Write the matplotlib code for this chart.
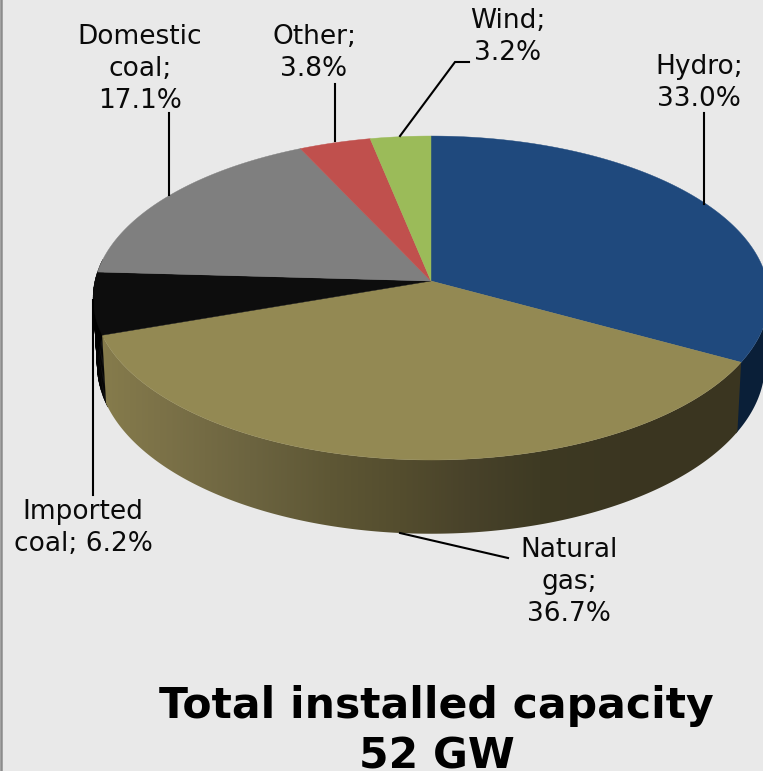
import numpy as np
import matplotlib
matplotlib.use("Agg")
import matplotlib.pyplot as plt
from matplotlib.colors import to_rgb
from matplotlib.patches import Polygon
from matplotlib.collections import PolyCollection

categories = ["Hydro", "Natural gas", "Imported coal", "Domestic coal", "Other", "Wind"]
shares = [33.0, 36.7, 6.2, 17.1, 3.8, 3.2]
top_colors = ["#1F497D", "#938953", "#0D0D0D", "#7F7F7F", "#C0504D", "#9BBB59"]
label_texts = ["Hydro;\n33.0%", "Natural\ngas;\n36.7%", "Imported\ncoal; 6.2%",
               "Domestic\ncoal;\n17.1%", "Other;\n3.8%", "Wind;\n3.2%"]
title_lines = ["Total installed capacity", "52 GW"]

W, H = 763, 771
BG = "#E9E9E9"
CX, CY, A, B, K, DEPTH = 431.0, 281.0, 336.0, 160.2, 0.105, 66.0

def top(theta):
    d = 1 + K * np.cos(theta)
    return CX + A * np.sin(theta) / d, CY - B * np.cos(theta) / d

def bottom(theta):
    d = 1 + K * np.cos(theta)
    return CX + 0.988 * A * np.sin(theta) / d, CY - B * np.cos(theta) / d + DEPTH / d

def wall(t0, t1):
    th = np.linspace(t0, t1, 200)
    tx, ty = top(th)
    bx, by = bottom(th)
    return np.c_[np.r_[tx, bx[::-1]], np.r_[ty, by[::-1]]]

def wall_strips(t0, t1, n=40):
    th = np.linspace(t0, t1, n)
    tx, ty = top(th)
    bx, by = bottom(th)
    return [np.array([[tx[j], ty[j]], [tx[j + 1], ty[j + 1]], [bx[j + 1], by[j + 1]], [bx[j], by[j]]])
            for j in range(n - 1)]

fig = plt.figure(figsize=(W / 100, H / 100), dpi=100, facecolor=BG)
ax = fig.add_axes([0, 0, 1, 1])
ax.axis("off")
ax.plot([1.2, 1.2], [0, H], color="#8C8C8C", lw=1.8, zorder=1)

edges = 2 * np.pi * np.cumsum([0] + shares) / sum(shares)

# shade of the natural-gas wall, left to right
gx = [100, 160, 250, 330, 400, 470, 540, 620, 745]
gc = ["#867C4C", "#7C7248", "#6C6440", "#5E5735", "#544D2E", "#48422A", "#3E3A23", "#3B3621", "#3A3520"]
gc_rgb = np.array([to_rgb(c) for c in gc])
xs = np.arange(90, 760)
grad = np.stack([np.interp(xs, gx, gc_rgb[:, c]) for c in range(3)], axis=-1)[None, :, :]

# the black wall folds at the left silhouette, so it is drawn in strips
ax.add_collection(PolyCollection(wall_strips(edges[2] - 0.02, edges[3] + 0.08), facecolors="#000000",
                                 edgecolors="#000000", linewidths=0.3, zorder=2))
# the hydro wall only needs its visible part, from the right edge of the picture onwards
ax.add_patch(Polygon(wall(np.radians(97), edges[1] + 0.01), closed=True, color="#0A1F38", lw=0, zorder=2))
img = ax.imshow(grad, extent=(90, 760, 560, 250), aspect="auto", zorder=3, interpolation="bilinear")
clip = Polygon(wall(edges[1], edges[2]), closed=True, transform=ax.transData, fc="none", lw=0)
ax.add_patch(clip)
img.set_clip_path(clip)

# top faces
for i in range(len(shares)):
    th = np.linspace(edges[i], edges[i + 1], 120)
    x, y = top(th)
    ax.fill(np.r_[CX, x], np.r_[CY, y], color=top_colors[i], lw=0.3, zorder=4)

# leader lines
lines = [([704, 704], [113, 204]),
         ([508, 400], [558, 533]),
         ([93, 93], [495, 300]),
         ([169, 169], [113, 195]),
         ([335, 335], [84, 141]),
         ([469, 455, 400], [62, 62, 136])]
for lx, ly in lines:
    ax.plot(lx, ly, color="black", lw=1.5, zorder=5, solid_joinstyle="miter")

# labels
positions = [(699, 83), (569, 582), (83, 528), (140, 69), (314, 53), (508, 37)]
for txt, (x, y) in zip(label_texts, positions):
    ax.text(x, y, txt, ha="center", va="center", fontsize=19.0, color="#0A0A0A",
            linespacing=1.28, zorder=6, family="DejaVu Sans")

for txt, y in zip(title_lines, (718, 768.5)):
    ax.text(436.5, y, txt, ha="center", va="baseline", fontsize=30.6, fontweight="bold",
            color="black", family="DejaVu Sans", zorder=6)

ax.set_xlim(0, W)
ax.set_ylim(H, 0)
fig.savefig("out.png", dpi=100, facecolor=BG)
